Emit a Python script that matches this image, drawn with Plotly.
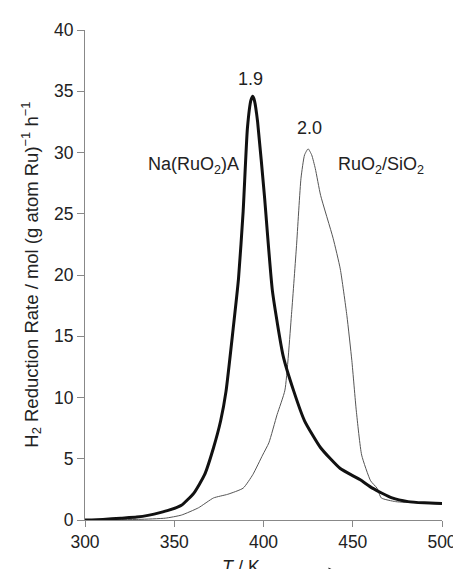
import plotly.graph_objects as go

# Na(RuO2)A (thick curve)
na_T = [300, 310, 320, 329, 336, 342, 347, 354, 361, 367, 372, 376, 379, 383, 386,
        388.6, 391, 393, 394, 395, 396.7, 400.5, 405, 411, 417, 423, 432, 443,
        454, 461, 472, 481, 490, 500]
na_rate = [0, 0.05, 0.15, 0.24, 0.4, 0.6, 0.8, 1.2, 2.2, 3.7, 5.9, 8.1, 10.5, 15.6, 19.7,
           25.2, 32, 34.3, 34.6, 34.2, 32.5, 26.5, 18.7, 13.4, 10.5, 8.1, 5.9, 4.2,
           3.3, 2.6, 1.8, 1.5, 1.4, 1.35]

# RuO2/SiO2 (thin curve)
si_T = [300, 330, 345, 354, 363.6, 372, 380, 388.6, 394, 399.5, 403, 407.6, 412, 415.8,
        418.5, 421, 423, 425, 427, 429, 432, 439, 443, 446.7, 449.5, 452, 455, 460,
        463.6, 466, 474, 485, 500]
si_rate = [0, 0.05, 0.15, 0.4, 1.0, 1.8, 2.1, 2.6, 3.7, 5.3, 6.3, 8.6, 10.6, 17,
           22.4, 27.9, 29.8, 30.3, 29.8, 28.7, 26.5, 23, 20.5, 16.7, 13, 8.9, 5.3, 3.2,
           2.6, 1.8, 1.5, 1.4, 1.3]

x_ticks = [300, 350, 400, 450, 500]
y_ticks = [0, 5, 10, 15, 20, 25, 30, 35, 40]

FONT = "Liberation Sans, Arial, sans-serif"

fig = go.Figure()
fig.add_trace(go.Scatter(x=si_T, y=si_rate, mode="lines",
                         line=dict(color="#555555", width=1, shape="spline", smoothing=0.5),
                         showlegend=False))
fig.add_trace(go.Scatter(x=na_T, y=na_rate, mode="lines",
                         line=dict(color="#111111", width=3, shape="spline", smoothing=0.5),
                         showlegend=False))

ann = [
    dict(x=392.5, y=36.0, xref="x", yref="y", text="1.9", showarrow=False,
         yanchor="middle", font=dict(size=18)),
    dict(x=426, y=32.0, xref="x", yref="y", text="2.0", showarrow=False,
         yanchor="middle", font=dict(size=18)),
    dict(x=361, y=28.9, xref="x", yref="y", text="Na(RuO<sub>2</sub>)A", showarrow=False,
         xanchor="center", yanchor="middle", font=dict(size=18)),
    dict(x=466, y=28.9, xref="x", yref="y", text="RuO<sub>2</sub>/SiO<sub>2</sub>", showarrow=False,
         xanchor="center", yanchor="middle", font=dict(size=18)),
    dict(x=-0.152, y=0.50, xref="paper", yref="paper",
         text="H<sub>2</sub> Reduction Rate / mol (g atom Ru)<sup>\u22121</sup> h<sup>\u22121</sup>",
         textangle=-90, showarrow=False, xanchor="center", yanchor="middle",
         font=dict(size=18.5)),
    dict(x=0.4375, y=-0.096, xref="paper", yref="paper", text="<i>T</i> / K",
         showarrow=False, xanchor="center", yanchor="middle", font=dict(size=18)),
    dict(x=0.696, y=-0.102, xref="paper", yref="paper", ax=-56, ay=0, text="",
         showarrow=True, arrowhead=2, arrowsize=1, arrowwidth=1, arrowcolor="#222222"),
]

fig.update_layout(
    width=461, height=569,
    margin=dict(l=77, r=16, t=21, b=57),
    paper_bgcolor="white", plot_bgcolor="white",
    font=dict(family=FONT, size=18, color="#222222"),
    annotations=ann,
    xaxis=dict(range=[300, 500], tickvals=x_ticks, ticks="outside", ticklen=6,
               tickcolor="#888888", showline=True, linecolor="#888888", linewidth=1,
               showgrid=False, zeroline=False, tickfont=dict(size=17.5, color="#222222")),
    yaxis=dict(range=[0, 40], tickvals=y_ticks, ticks="outside", ticklen=7,
               tickcolor="#888888", showline=True, linecolor="#888888", linewidth=1,
               showgrid=False, zeroline=False, tickfont=dict(size=17.5, color="#222222")),
)

fig.write_html("out.html")
